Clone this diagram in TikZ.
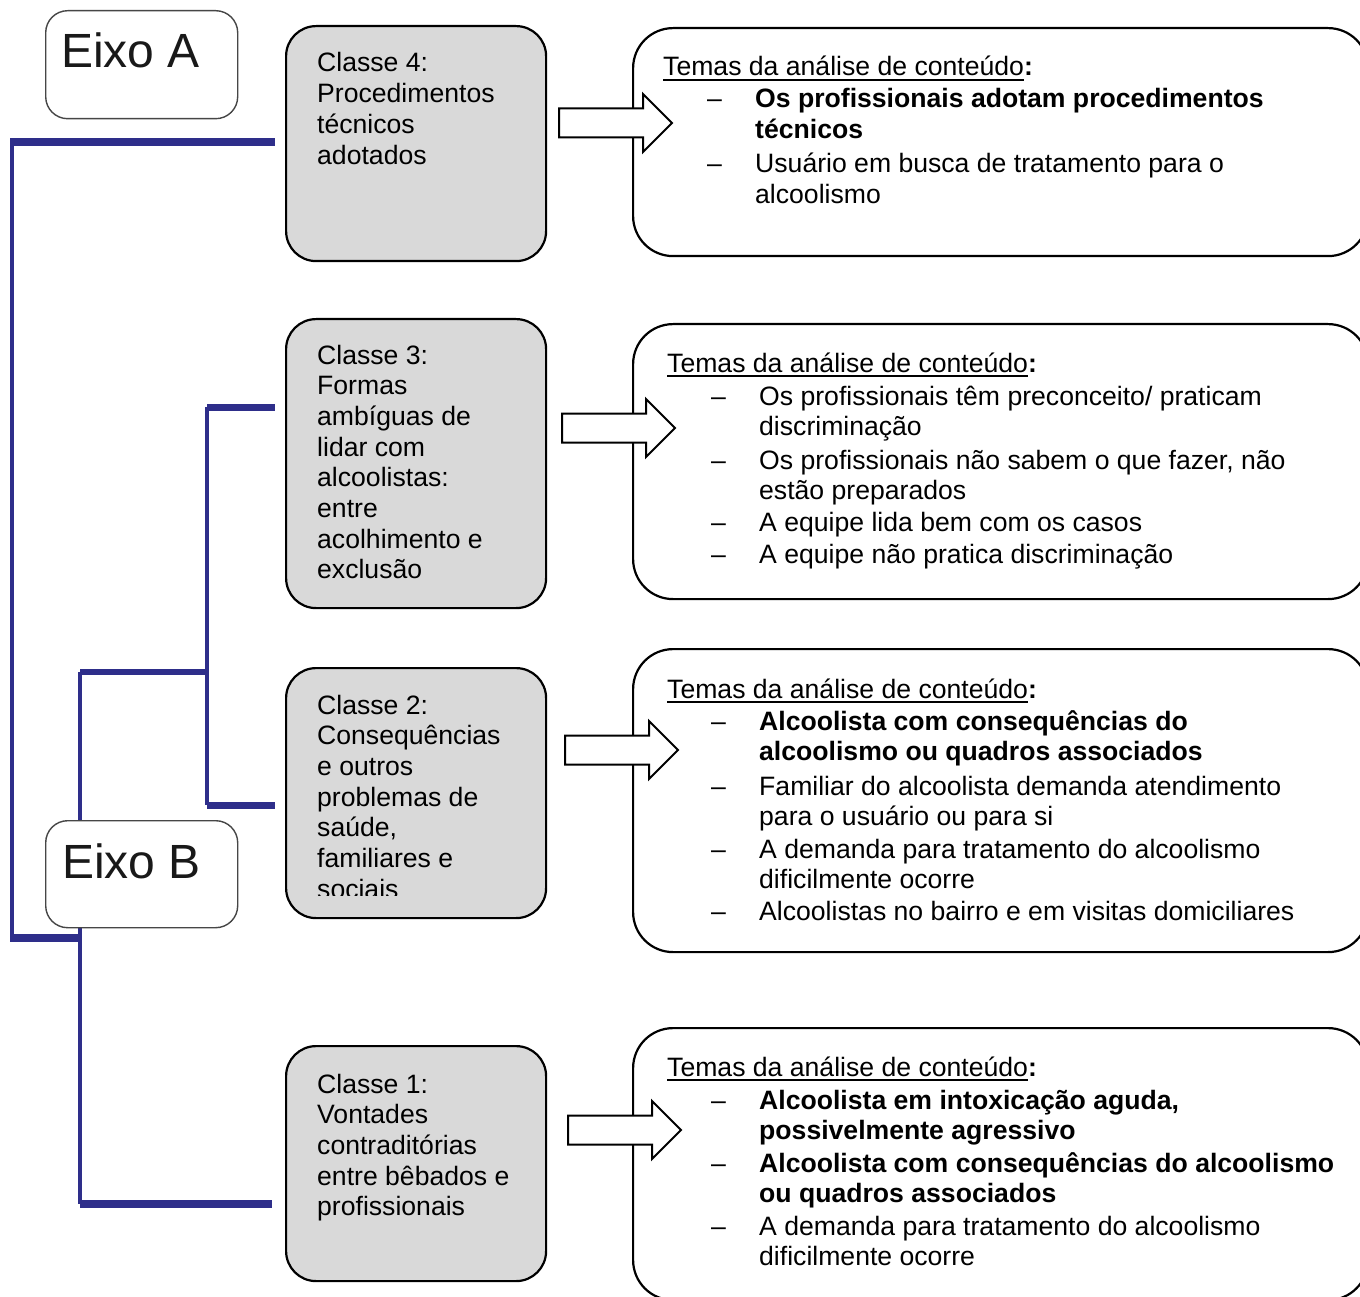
\documentclass[tikz,border=0pt]{standalone}
\usepackage{fontspec}
\setmainfont{Liberation Sans}
\usetikzlibrary{calc}

\definecolor{treeblue}{RGB}{46,46,138}
\definecolor{classgray}{RGB}{217,217,217}
\definecolor{axisgray}{RGB}{70,70,70}
\definecolor{axistext}{RGB}{25,25,25}

% multi-line text block whose baseline is that of its first line
\newcommand\txtblock[1]{\parbox[t]{700pt}{\raggedright\fontsize{26.6}{30.7}\selectfont #1}}
% underlined heading with a bold colon
\newcommand\themehead{\setbox0\hbox{Temas da análise de conteúdo}\rlap{\rule[-5pt]{\wd0}{1.8pt}}\box0\textbf{:}}
% dash + text of one theme entry
\newcommand\themeitem[4]{%
  \node[label] (#1d) at (#2,#3+2) {–};
  \node[label] (#1) at (#2+48,#3+2) {\txtblock{#4}};}
% hollow block arrow: left end x, centre y
\newcommand\blockarrow[2]{%
  \draw[blockarrow] (#1,#2-14.5) -- ++(84,0) -- ++(0,-14.5) -- ++(29,29)
    -- ++(-29,29) -- ++(0,-14.5) -- ++(-84,0) -- cycle;}

\tikzset{
  classbox/.style={draw=black, line width=2.2pt, fill=classgray, rounded corners=30pt, inner sep=0, anchor=north west},
  themebox/.style={draw=black, line width=2.2pt, fill=white, rounded corners=40pt, inner sep=0, anchor=north west},
  axisbox/.style={draw=axisgray, line width=1.4pt, fill=white, rounded corners=22pt, inner sep=0, anchor=north west},
  axislabel/.style={anchor=base west, inner sep=0, text=axistext, font=\fontsize{48}{52}\selectfont},
  label/.style={anchor=base west, inner sep=0, font=\fontsize{26.6}{30.7}\selectfont},
  hbranch/.style={draw=treeblue, line width=8.5pt},
  vbranch/.style={draw=treeblue, line width=4pt},
  blockarrow/.style={draw=black, line width=2pt, fill=white, line join=miter},
}

\begin{document}
\begin{tikzpicture}[x=1pt, y=-1pt]
\useasboundingbox (0,0) rectangle (1360,1297);
\clip (0,0) rectangle (1360,1297);
\fill[white] (0,0) rectangle (1360,1297);

% dendrogram junctions
\coordinate (rootA) at (10,142);
\coordinate (rootB) at (12,938);
\coordinate (b1) at (80,938);
\coordinate (b1top) at (80,672);
\coordinate (b1bot) at (80,1204);
\coordinate (b2) at (207,672);
\coordinate (b2top) at (207,407);
\coordinate (b2bot) at (207,805);
\coordinate (e4) at (275,142);
\coordinate (e3) at (275,407);
\coordinate (e2) at (275,805);
\coordinate (e1) at (272,1204);

% dendrogram branches
\draw[vbranch] (12,142) -- (rootB);
\draw[vbranch] (b1top) -- (b1bot);
\draw[vbranch] (b2top) -- (b2bot);
\draw[hbranch] (rootA) -- (e4);
\draw[hbranch] (10,938) -- (b1);
\draw[hbranch, line width=6.5pt] (b1top) -- (b2);
\draw[hbranch, line width=7pt] (b2top) -- (e3);
\draw[hbranch, line width=7pt] (b2bot) -- (e2);
\draw[hbranch] (b1bot) -- (e1);

% axis labels
\node[axisbox, minimum width=192pt, minimum height=108pt] (axA) at (45,10) {};
\node[axislabel] (axAt) at (61,68) {Eixo A};
\node[axisbox, minimum width=192pt, minimum height=107pt] (axB) at (45,820) {};
\node[axislabel] (axBt) at (62,878) {Eixo B};

% classes
\node[classbox, minimum width=260pt, minimum height=235pt] (c4) at (285,25) {};
\node[label] (c4t) at (317,72) {\txtblock{Classe 4:\\Procedimentos\\técnicos\\adotados}};

\node[classbox, minimum width=260pt, minimum height=289pt] (c3) at (285,318) {};
\node[label] (c3t) at (317,364) {\txtblock{Classe 3:\\Formas\\ambíguas de\\lidar com\\alcoolistas:\\entre\\acolhimento e\\exclusão}};

\node[classbox, minimum width=260pt, minimum height=250pt] (c2) at (285,667) {};
\begin{scope}
  \clip (285,660) rectangle (545,895);
  \node[label] (c2t) at (317,714) {\txtblock{Classe 2:\\Consequências\\e outros\\problemas de\\saúde,\\familiares e\\sociais}};
\end{scope}

\node[classbox, minimum width=260pt, minimum height=235pt] (c1) at (285,1045) {};
\node[label] (c1t) at (317,1093) {\txtblock{Classe 1:\\Vontades\\contraditórias\\entre bêbados e\\profissionais}};

% theme boxes
\node[themebox, minimum width=735pt, minimum height=228pt] (t4) at (632,27) {};
\node[label] (t4h) at (663,76) {\themehead};
\themeitem{t4a}{707}{106}{\textbf{Os profissionais adotam procedimentos\\técnicos}}
\themeitem{t4b}{707}{171}{Usuário em busca de tratamento para o\\alcoolismo}

\node[themebox, minimum width=735pt, minimum height=275pt] (t3) at (632,323) {};
\node[label] (t3h) at (667,372) {\themehead};
\themeitem{t3a}{711}{403}{Os profissionais têm preconceito/ praticam\\discriminação}
\themeitem{t3b}{711}{467}{Os profissionais não sabem o que fazer, não\\estão preparados}
\themeitem{t3c}{711}{529}{A equipe lida bem com os casos}
\themeitem{t3d}{711}{561}{A equipe não pratica discriminação}

\node[themebox, minimum width=735pt, minimum height=303pt] (t2) at (632,648) {};
\node[label] (t2h) at (667,698) {\themehead};
\themeitem{t2a}{711}{728}{\textbf{Alcoolista com consequências do\\alcoolismo ou quadros associados}}
\themeitem{t2b}{711}{793}{Familiar do alcoolista demanda atendimento\\para o usuário ou para si}
\themeitem{t2c}{711}{856}{A demanda para tratamento do alcoolismo\\dificilmente ocorre}
\themeitem{t2d}{711}{918}{Alcoolistas no bairro e em visitas domiciliares}

\node[themebox, minimum width=735pt, minimum height=272pt] (t1) at (632,1027) {};
\node[label] (t1h) at (667,1076) {\themehead};
\themeitem{t1a}{711}{1107}{\textbf{Alcoolista em intoxicação aguda,\\possivelmente agressivo}}
\themeitem{t1b}{711}{1170}{\textbf{Alcoolista com consequências do alcoolismo\\ou quadros associados}}
\themeitem{t1c}{711}{1233}{A demanda para tratamento do alcoolismo\\dificilmente ocorre}

% arrows from classes to themes
\blockarrow{559}{123}
\blockarrow{562}{428}
\blockarrow{565}{750}
\blockarrow{568}{1130}
\end{tikzpicture}
\end{document}
